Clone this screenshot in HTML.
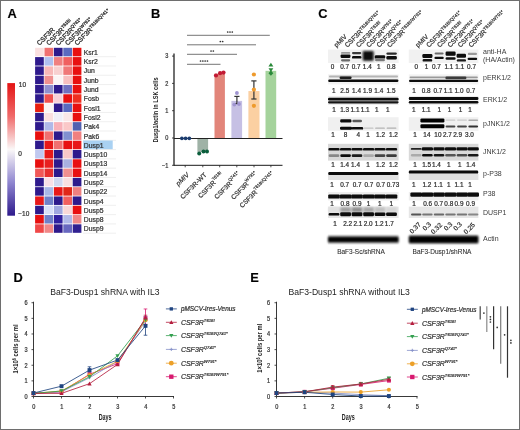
<!DOCTYPE html>
<html><head><meta charset="utf-8"><style>
html,body{margin:0;padding:0;background:#fff;width:520px;height:430px;overflow:hidden}
svg{display:block}
text{font-family:"Liberation Sans", sans-serif}
svg{will-change:transform}
text{stroke:#333;stroke-width:0.22px}
</style></head><body>
<svg width="520" height="430" viewBox="0 0 520 430">
<rect x="0" y="0" width="520" height="430" fill="#fff"/>
<rect x="35.10" y="47.80" width="8.7" height="8.5" fill="#fae0e0"/>
<rect x="44.50" y="47.80" width="8.7" height="8.5" fill="#f07070"/>
<rect x="53.90" y="47.80" width="8.7" height="8.5" fill="#2e1a8c"/>
<rect x="63.30" y="47.80" width="8.7" height="8.5" fill="#5a6ac0"/>
<rect x="72.70" y="47.80" width="8.7" height="8.5" fill="#e81010"/>
<rect x="35.10" y="57.09" width="8.7" height="8.5" fill="#2e1a8c"/>
<rect x="44.50" y="57.09" width="8.7" height="8.5" fill="#b0c0f0"/>
<rect x="53.90" y="57.09" width="8.7" height="8.5" fill="#f08080"/>
<rect x="63.30" y="57.09" width="8.7" height="8.5" fill="#f06060"/>
<rect x="72.70" y="57.09" width="8.7" height="8.5" fill="#e81010"/>
<rect x="35.10" y="66.38" width="8.7" height="8.5" fill="#2e1a8c"/>
<rect x="44.50" y="66.38" width="8.7" height="8.5" fill="#f8b8b8"/>
<rect x="53.90" y="66.38" width="8.7" height="8.5" fill="#f8d0d0"/>
<rect x="63.30" y="66.38" width="8.7" height="8.5" fill="#f07878"/>
<rect x="72.70" y="66.38" width="8.7" height="8.5" fill="#e81010"/>
<rect x="35.10" y="75.67" width="8.7" height="8.5" fill="#2e1a8c"/>
<rect x="44.50" y="75.67" width="8.7" height="8.5" fill="#f09090"/>
<rect x="53.90" y="75.67" width="8.7" height="8.5" fill="#fbf5f5"/>
<rect x="63.30" y="75.67" width="8.7" height="8.5" fill="#f8c0c0"/>
<rect x="72.70" y="75.67" width="8.7" height="8.5" fill="#e81010"/>
<rect x="35.10" y="84.96" width="8.7" height="8.5" fill="#2e1a8c"/>
<rect x="44.50" y="84.96" width="8.7" height="8.5" fill="#9090d0"/>
<rect x="53.90" y="84.96" width="8.7" height="8.5" fill="#2e1a8c"/>
<rect x="63.30" y="84.96" width="8.7" height="8.5" fill="#7070c0"/>
<rect x="72.70" y="84.96" width="8.7" height="8.5" fill="#e81010"/>
<rect x="35.10" y="94.25" width="8.7" height="8.5" fill="#2e1a8c"/>
<rect x="44.50" y="94.25" width="8.7" height="8.5" fill="#f05050"/>
<rect x="53.90" y="94.25" width="8.7" height="8.5" fill="#f8d0d8"/>
<rect x="63.30" y="94.25" width="8.7" height="8.5" fill="#e81010"/>
<rect x="72.70" y="94.25" width="8.7" height="8.5" fill="#f03020"/>
<rect x="35.10" y="103.54" width="8.7" height="8.5" fill="#e82010"/>
<rect x="44.50" y="103.54" width="8.7" height="8.5" fill="#faf5f5"/>
<rect x="53.90" y="103.54" width="8.7" height="8.5" fill="#2e1a8c"/>
<rect x="63.30" y="103.54" width="8.7" height="8.5" fill="#5a6ac0"/>
<rect x="72.70" y="103.54" width="8.7" height="8.5" fill="#e81010"/>
<rect x="35.10" y="112.83" width="8.7" height="8.5" fill="#2e1a8c"/>
<rect x="44.50" y="112.83" width="8.7" height="8.5" fill="#fae0e0"/>
<rect x="53.90" y="112.83" width="8.7" height="8.5" fill="#f0f0f8"/>
<rect x="63.30" y="112.83" width="8.7" height="8.5" fill="#fae8e8"/>
<rect x="72.70" y="112.83" width="8.7" height="8.5" fill="#e81010"/>
<rect x="35.10" y="122.12" width="8.7" height="8.5" fill="#2e1a8c"/>
<rect x="44.50" y="122.12" width="8.7" height="8.5" fill="#b0b8e8"/>
<rect x="53.90" y="122.12" width="8.7" height="8.5" fill="#f8b0b8"/>
<rect x="63.30" y="122.12" width="8.7" height="8.5" fill="#fac8c8"/>
<rect x="72.70" y="122.12" width="8.7" height="8.5" fill="#5060b0"/>
<rect x="35.10" y="131.41" width="8.7" height="8.5" fill="#e81010"/>
<rect x="44.50" y="131.41" width="8.7" height="8.5" fill="#f07070"/>
<rect x="53.90" y="131.41" width="8.7" height="8.5" fill="#2e1a8c"/>
<rect x="63.30" y="131.41" width="8.7" height="8.5" fill="#8090d0"/>
<rect x="72.70" y="131.41" width="8.7" height="8.5" fill="#f08080"/>
<rect x="35.10" y="140.70" width="8.7" height="8.5" fill="#2e1a8c"/>
<rect x="44.50" y="140.70" width="8.7" height="8.5" fill="#e81818"/>
<rect x="53.90" y="140.70" width="8.7" height="8.5" fill="#f07070"/>
<rect x="63.30" y="140.70" width="8.7" height="8.5" fill="#e81010"/>
<rect x="72.70" y="140.70" width="8.7" height="8.5" fill="#e81818"/>
<rect x="35.10" y="149.99" width="8.7" height="8.5" fill="#c0c8f0"/>
<rect x="44.50" y="149.99" width="8.7" height="8.5" fill="#e81818"/>
<rect x="53.90" y="149.99" width="8.7" height="8.5" fill="#2e1a8c"/>
<rect x="63.30" y="149.99" width="8.7" height="8.5" fill="#f8c8c8"/>
<rect x="72.70" y="149.99" width="8.7" height="8.5" fill="#2e1a8c"/>
<rect x="35.10" y="159.28" width="8.7" height="8.5" fill="#e81010"/>
<rect x="44.50" y="159.28" width="8.7" height="8.5" fill="#e82020"/>
<rect x="53.90" y="159.28" width="8.7" height="8.5" fill="#2e1a8c"/>
<rect x="63.30" y="159.28" width="8.7" height="8.5" fill="#a8b0e0"/>
<rect x="72.70" y="159.28" width="8.7" height="8.5" fill="#e81010"/>
<rect x="35.10" y="168.57" width="8.7" height="8.5" fill="#f05858"/>
<rect x="44.50" y="168.57" width="8.7" height="8.5" fill="#e83030"/>
<rect x="53.90" y="168.57" width="8.7" height="8.5" fill="#2e1a8c"/>
<rect x="63.30" y="168.57" width="8.7" height="8.5" fill="#f09090"/>
<rect x="72.70" y="168.57" width="8.7" height="8.5" fill="#e81010"/>
<rect x="35.10" y="177.86" width="8.7" height="8.5" fill="#2e1a8c"/>
<rect x="44.50" y="177.86" width="8.7" height="8.5" fill="#f8e0e8"/>
<rect x="53.90" y="177.86" width="8.7" height="8.5" fill="#d0d8f0"/>
<rect x="63.30" y="177.86" width="8.7" height="8.5" fill="#f8e0e0"/>
<rect x="72.70" y="177.86" width="8.7" height="8.5" fill="#2e1a8c"/>
<rect x="35.10" y="187.15" width="8.7" height="8.5" fill="#2e1a8c"/>
<rect x="44.50" y="187.15" width="8.7" height="8.5" fill="#a8b8e8"/>
<rect x="53.90" y="187.15" width="8.7" height="8.5" fill="#e81818"/>
<rect x="63.30" y="187.15" width="8.7" height="8.5" fill="#e02818"/>
<rect x="72.70" y="187.15" width="8.7" height="8.5" fill="#f08080"/>
<rect x="35.10" y="196.44" width="8.7" height="8.5" fill="#e81818"/>
<rect x="44.50" y="196.44" width="8.7" height="8.5" fill="#7080c8"/>
<rect x="53.90" y="196.44" width="8.7" height="8.5" fill="#2e1a8c"/>
<rect x="63.30" y="196.44" width="8.7" height="8.5" fill="#f06060"/>
<rect x="72.70" y="196.44" width="8.7" height="8.5" fill="#2e1a8c"/>
<rect x="35.10" y="205.73" width="8.7" height="8.5" fill="#2e1a8c"/>
<rect x="44.50" y="205.73" width="8.7" height="8.5" fill="#d8e0f8"/>
<rect x="53.90" y="205.73" width="8.7" height="8.5" fill="#a0a8e0"/>
<rect x="63.30" y="205.73" width="8.7" height="8.5" fill="#f8d8d8"/>
<rect x="72.70" y="205.73" width="8.7" height="8.5" fill="#e81010"/>
<rect x="35.10" y="215.02" width="8.7" height="8.5" fill="#e81010"/>
<rect x="44.50" y="215.02" width="8.7" height="8.5" fill="#7080c8"/>
<rect x="53.90" y="215.02" width="8.7" height="8.5" fill="#3020a0"/>
<rect x="63.30" y="215.02" width="8.7" height="8.5" fill="#b0b8e8"/>
<rect x="72.70" y="215.02" width="8.7" height="8.5" fill="#f08888"/>
<rect x="35.10" y="224.31" width="8.7" height="8.5" fill="#f04848"/>
<rect x="44.50" y="224.31" width="8.7" height="8.5" fill="#f08888"/>
<rect x="53.90" y="224.31" width="8.7" height="8.5" fill="#2e1a8c"/>
<rect x="63.30" y="224.31" width="8.7" height="8.5" fill="#6868c0"/>
<rect x="72.70" y="224.31" width="8.7" height="8.5" fill="#302090"/>
<text x="83.8" y="54.90" font-size="6.8" text-anchor="start" fill="#333" font-weight="normal" font-style="normal" >Ksr1</text>
<line x1="83" y1="56.69" x2="116" y2="56.69" stroke="#e4e4e4" stroke-width="0.6"/>
<text x="83.8" y="64.19" font-size="6.8" text-anchor="start" fill="#333" font-weight="normal" font-style="normal" >Ksr2</text>
<line x1="83" y1="65.98" x2="116" y2="65.98" stroke="#e4e4e4" stroke-width="0.6"/>
<text x="83.8" y="73.48" font-size="6.8" text-anchor="start" fill="#333" font-weight="normal" font-style="normal" >Jun</text>
<line x1="83" y1="75.27" x2="116" y2="75.27" stroke="#e4e4e4" stroke-width="0.6"/>
<text x="83.8" y="82.77" font-size="6.8" text-anchor="start" fill="#333" font-weight="normal" font-style="normal" >Junb</text>
<line x1="83" y1="84.56" x2="116" y2="84.56" stroke="#e4e4e4" stroke-width="0.6"/>
<text x="83.8" y="92.06" font-size="6.8" text-anchor="start" fill="#333" font-weight="normal" font-style="normal" >Jund</text>
<line x1="83" y1="93.85" x2="116" y2="93.85" stroke="#e4e4e4" stroke-width="0.6"/>
<text x="83.8" y="101.35" font-size="6.8" text-anchor="start" fill="#333" font-weight="normal" font-style="normal" >Fosb</text>
<line x1="83" y1="103.14" x2="116" y2="103.14" stroke="#e4e4e4" stroke-width="0.6"/>
<text x="83.8" y="110.64" font-size="6.8" text-anchor="start" fill="#333" font-weight="normal" font-style="normal" >Fosl1</text>
<line x1="83" y1="112.43" x2="116" y2="112.43" stroke="#e4e4e4" stroke-width="0.6"/>
<text x="83.8" y="119.93" font-size="6.8" text-anchor="start" fill="#333" font-weight="normal" font-style="normal" >Fosl2</text>
<line x1="83" y1="121.72" x2="116" y2="121.72" stroke="#e4e4e4" stroke-width="0.6"/>
<text x="83.8" y="129.22" font-size="6.8" text-anchor="start" fill="#333" font-weight="normal" font-style="normal" >Pak4</text>
<line x1="83" y1="131.01" x2="116" y2="131.01" stroke="#e4e4e4" stroke-width="0.6"/>
<text x="83.8" y="138.51" font-size="6.8" text-anchor="start" fill="#333" font-weight="normal" font-style="normal" >Pak6</text>
<line x1="83" y1="140.30" x2="116" y2="140.30" stroke="#e4e4e4" stroke-width="0.6"/>
<rect x="83.2" y="140.50" width="29.5" height="8.8" fill="#a9d1f2"/>
<text x="83.8" y="147.80" font-size="6.8" text-anchor="start" fill="#333" font-weight="normal" font-style="normal" >Dusp1</text>
<line x1="83" y1="149.59" x2="116" y2="149.59" stroke="#e4e4e4" stroke-width="0.6"/>
<text x="83.8" y="157.09" font-size="6.8" text-anchor="start" fill="#333" font-weight="normal" font-style="normal" >Dusp10</text>
<line x1="83" y1="158.88" x2="116" y2="158.88" stroke="#e4e4e4" stroke-width="0.6"/>
<text x="83.8" y="166.38" font-size="6.8" text-anchor="start" fill="#333" font-weight="normal" font-style="normal" >Dusp13</text>
<line x1="83" y1="168.17" x2="116" y2="168.17" stroke="#e4e4e4" stroke-width="0.6"/>
<text x="83.8" y="175.67" font-size="6.8" text-anchor="start" fill="#333" font-weight="normal" font-style="normal" >Dusp14</text>
<line x1="83" y1="177.46" x2="116" y2="177.46" stroke="#e4e4e4" stroke-width="0.6"/>
<text x="83.8" y="184.96" font-size="6.8" text-anchor="start" fill="#333" font-weight="normal" font-style="normal" >Dusp2</text>
<line x1="83" y1="186.75" x2="116" y2="186.75" stroke="#e4e4e4" stroke-width="0.6"/>
<text x="83.8" y="194.25" font-size="6.8" text-anchor="start" fill="#333" font-weight="normal" font-style="normal" >Dusp22</text>
<line x1="83" y1="196.04" x2="116" y2="196.04" stroke="#e4e4e4" stroke-width="0.6"/>
<text x="83.8" y="203.54" font-size="6.8" text-anchor="start" fill="#333" font-weight="normal" font-style="normal" >Dusp4</text>
<line x1="83" y1="205.33" x2="116" y2="205.33" stroke="#e4e4e4" stroke-width="0.6"/>
<text x="83.8" y="212.83" font-size="6.8" text-anchor="start" fill="#333" font-weight="normal" font-style="normal" >Dusp5</text>
<line x1="83" y1="214.62" x2="116" y2="214.62" stroke="#e4e4e4" stroke-width="0.6"/>
<text x="83.8" y="222.12" font-size="6.8" text-anchor="start" fill="#333" font-weight="normal" font-style="normal" >Dusp8</text>
<line x1="83" y1="223.91" x2="116" y2="223.91" stroke="#e4e4e4" stroke-width="0.6"/>
<text x="83.8" y="231.41" font-size="6.8" text-anchor="start" fill="#333" font-weight="normal" font-style="normal" >Dusp9</text>
<line x1="83" y1="233.20" x2="116" y2="233.20" stroke="#e4e4e4" stroke-width="0.6"/>
<g transform="translate(39.60,45.8) rotate(-45)"><text x="0" y="0" font-size="6.7" fill="#333" style="stroke-width:0.3px">CSF3R</text></g>
<g transform="translate(49.00,45.8) rotate(-45)"><text x="0" y="0" font-size="6.7" fill="#333" style="stroke-width:0.3px">CSF3R<tspan font-size="4.5" dy="-2.3">T618I</tspan></text></g>
<g transform="translate(58.40,45.8) rotate(-45)"><text x="0" y="0" font-size="6.7" fill="#333" style="stroke-width:0.3px">CSF3R<tspan font-size="4.5" dy="-2.3">Q741*</tspan></text></g>
<g transform="translate(67.80,45.8) rotate(-45)"><text x="0" y="0" font-size="6.7" fill="#333" style="stroke-width:0.3px">CSF3R<tspan font-size="4.5" dy="-2.3">W791*</tspan></text></g>
<g transform="translate(77.20,45.8) rotate(-45)"><text x="0" y="0" font-size="6.7" fill="#333" style="stroke-width:0.3px">CSF3R<tspan font-size="4.5" dy="-2.3">T618I/Q741*</tspan></text></g>
<defs><linearGradient id="cb" x1="0" y1="0" x2="0" y2="1"><stop offset="0" stop-color="#e41414"/><stop offset="0.25" stop-color="#f06a6a"/><stop offset="0.5" stop-color="#fbf8f8"/><stop offset="0.75" stop-color="#8f86d0"/><stop offset="1" stop-color="#2e1a8c"/></linearGradient></defs>
<rect x="7.3" y="83.1" width="7.7" height="132.6" fill="url(#cb)"/>
<text x="18.8" y="87.4" font-size="6.5" text-anchor="start" fill="#333" font-weight="normal" font-style="normal" >10</text>
<text x="18.2" y="155.6" font-size="6.5" text-anchor="start" fill="#333" font-weight="normal" font-style="normal" >0</text>
<text x="18.3" y="215.9" font-size="6.5" text-anchor="start" fill="#333" font-weight="normal" font-style="normal" >−10</text>
<text x="7.4" y="17.7" font-size="12.8" text-anchor="start" fill="#000" font-weight="bold" font-style="normal" >A</text>
<text x="151.0" y="17.9" font-size="12.8" text-anchor="start" fill="#000" font-weight="bold" font-style="normal" >B</text>
<rect x="197.4" y="138.00" width="10.70" height="13.92" fill="#9fb2a6"/>
<rect x="214.5" y="73.57" width="10.40" height="64.43" fill="#e2857a"/>
<rect x="231.4" y="100.87" width="10.70" height="37.13" fill="#c6c0e4"/>
<rect x="248.4" y="91.04" width="11.10" height="46.96" fill="#fbd0a2"/>
<rect x="265.5" y="70.84" width="10.70" height="67.16" fill="#a5d39c"/>
<line x1="174.0" y1="53.60" x2="174.0" y2="165.80" stroke="#111" stroke-width="1.2"/>
<line x1="174.0" y1="138.5" x2="282.5" y2="138.5" stroke="#222" stroke-width="1"/>
<line x1="174.0" y1="165.30" x2="282.5" y2="165.30" stroke="#1a1a1a" stroke-width="1"/>
<line x1="172.0" y1="56.10" x2="174.0" y2="56.10" stroke="#222" stroke-width="0.8"/>
<g transform="translate(168.40,58.30) scale(0.85,1)"><text x="0" y="0" font-size="6.6" text-anchor="end" fill="#333" font-weight="normal" font-style="normal" >3</text></g>
<line x1="172.0" y1="83.40" x2="174.0" y2="83.40" stroke="#222" stroke-width="0.8"/>
<g transform="translate(168.40,85.60) scale(0.85,1)"><text x="0" y="0" font-size="6.6" text-anchor="end" fill="#333" font-weight="normal" font-style="normal" >2</text></g>
<line x1="172.0" y1="110.70" x2="174.0" y2="110.70" stroke="#222" stroke-width="0.8"/>
<g transform="translate(168.40,112.90) scale(0.85,1)"><text x="0" y="0" font-size="6.6" text-anchor="end" fill="#333" font-weight="normal" font-style="normal" >1</text></g>
<line x1="172.0" y1="138.00" x2="174.0" y2="138.00" stroke="#222" stroke-width="0.8"/>
<g transform="translate(168.40,140.20) scale(0.85,1)"><text x="0" y="0" font-size="6.6" text-anchor="end" fill="#333" font-weight="normal" font-style="normal" >0</text></g>
<line x1="172.0" y1="165.30" x2="174.0" y2="165.30" stroke="#222" stroke-width="0.8"/>
<g transform="translate(168.40,167.50) scale(0.85,1)"><text x="0" y="0" font-size="6.6" text-anchor="end" fill="#333" font-weight="normal" font-style="normal" >−1</text></g>
<line x1="185.2" y1="165.30" x2="185.2" y2="167.30" stroke="#222" stroke-width="0.8"/>
<line x1="202.8" y1="165.30" x2="202.8" y2="167.30" stroke="#222" stroke-width="0.8"/>
<line x1="219.7" y1="165.30" x2="219.7" y2="167.30" stroke="#222" stroke-width="0.8"/>
<line x1="236.8" y1="165.30" x2="236.8" y2="167.30" stroke="#222" stroke-width="0.8"/>
<line x1="254.0" y1="165.30" x2="254.0" y2="167.30" stroke="#222" stroke-width="0.8"/>
<line x1="270.9" y1="165.30" x2="270.9" y2="167.30" stroke="#222" stroke-width="0.8"/>
<g transform="translate(157.6,110.0) rotate(-90)"><text x="0" y="0" font-size="7.4" text-anchor="middle" fill="#222" font-weight="bold" style="stroke:none" transform="scale(0.76,1)">Dusp1/actin in LSK cells</text></g>
<g transform="translate(189.50,175.30) rotate(-45)"><text x="0" y="0" font-size="6.6" text-anchor="end" fill="#333"><tspan font-style="italic">pMIV</tspan></text></g>
<g transform="translate(207.10,175.30) rotate(-45)"><text x="0" y="0" font-size="6.6" text-anchor="end" fill="#333">CSF3R-WT</text></g>
<g transform="translate(224.00,175.30) rotate(-45)"><text x="0" y="0" font-size="6.6" text-anchor="end" fill="#333">CSF3R<tspan font-size="4.4" dy="-3.4">T618I</tspan></text></g>
<g transform="translate(241.10,175.30) rotate(-45)"><text x="0" y="0" font-size="6.6" text-anchor="end" fill="#333">CSF3R<tspan font-size="4.4" dy="-3.4">Q741*</tspan></text></g>
<g transform="translate(258.30,175.30) rotate(-45)"><text x="0" y="0" font-size="6.6" text-anchor="end" fill="#333">CSF3R<tspan font-size="4.4" dy="-3.4">W791*</tspan></text></g>
<g transform="translate(275.20,175.30) rotate(-45)"><text x="0" y="0" font-size="6.6" text-anchor="end" fill="#333">CSF3R<tspan font-size="4.4" dy="-3.4">T618I/Q741*</tspan></text></g>
<line x1="187" y1="35.3" x2="269.8" y2="35.3" stroke="#666" stroke-width="0.9"/>
<circle cx="227.70" cy="32.00" r="0.85" fill="#333"/>
<circle cx="230.00" cy="32.00" r="0.85" fill="#333"/>
<circle cx="232.30" cy="32.00" r="0.85" fill="#333"/>
<line x1="187" y1="44.8" x2="256" y2="44.8" stroke="#666" stroke-width="0.9"/>
<circle cx="220.35" cy="41.50" r="0.85" fill="#333"/>
<circle cx="222.65" cy="41.50" r="0.85" fill="#333"/>
<line x1="187" y1="54.3" x2="237" y2="54.3" stroke="#666" stroke-width="0.9"/>
<circle cx="211.05" cy="51.00" r="0.85" fill="#333"/>
<circle cx="213.35" cy="51.00" r="0.85" fill="#333"/>
<line x1="187" y1="64.3" x2="220.5" y2="64.3" stroke="#666" stroke-width="0.9"/>
<circle cx="200.55" cy="61.00" r="0.85" fill="#333"/>
<circle cx="202.85" cy="61.00" r="0.85" fill="#333"/>
<circle cx="205.15" cy="61.00" r="0.85" fill="#333"/>
<circle cx="207.45" cy="61.00" r="0.85" fill="#333"/>
<circle cx="181.9" cy="138.3" r="1.9" fill="#1b3c6e"/>
<circle cx="185.6" cy="138.3" r="1.9" fill="#1b3c6e"/>
<circle cx="189.3" cy="138.3" r="1.9" fill="#1b3c6e"/>
<circle cx="199.2" cy="153.6" r="2.0" fill="#0b5e3c"/>
<circle cx="203.5" cy="151.4" r="2.0" fill="#0b5e3c"/>
<circle cx="207.0" cy="151.6" r="2.0" fill="#0b5e3c"/>
<circle cx="216" cy="75.5" r="2.1" fill="#c21a34"/>
<circle cx="220.1" cy="73.2" r="2.1" fill="#c21a34"/>
<circle cx="223.5" cy="72.6" r="2.1" fill="#c21a34"/>
<line x1="236.9" y1="96.4" x2="236.9" y2="103.6" stroke="#333" stroke-width="1.2"/><line x1="234.3" y1="96.4" x2="239.5" y2="96.4" stroke="#333" stroke-width="1.2"/><line x1="234.3" y1="103.6" x2="239.5" y2="103.6" stroke="#333" stroke-width="1.2"/>
<circle cx="236.9" cy="93.0" r="1.9" fill="#9f94d0"/>
<circle cx="234.3" cy="104.6" r="1.9" fill="#9f94d0"/>
<circle cx="239.0" cy="104.0" r="1.9" fill="#9f94d0"/>
<line x1="253.9" y1="80.9" x2="253.9" y2="99.0" stroke="#333" stroke-width="1.2"/><line x1="251.3" y1="80.9" x2="256.5" y2="80.9" stroke="#333" stroke-width="1.2"/><line x1="251.3" y1="99.0" x2="256.5" y2="99.0" stroke="#333" stroke-width="1.2"/>
<circle cx="253.9" cy="74.5" r="2.1" fill="#ee9a2c"/>
<circle cx="253.9" cy="89.6" r="2.1" fill="#ee9a2c"/>
<circle cx="253.9" cy="105.8" r="2.1" fill="#ee9a2c"/>
<path d="M268.4,66.6 L270.9,62.8 L273.4,66.6 Z" fill="#2a8a3a"/>
<path d="M268.5,68.2 L270.9,72.0 L273.29999999999995,68.2 Z" fill="#2a8a3a"/>
<path d="M268.5,73.2 L270.9,70.6 L273.29999999999995,73.2 L270.9,75.8 Z" fill="#2a8a3a"/>
<text x="318.3" y="18.1" font-size="12.8" text-anchor="start" fill="#000" font-weight="bold" font-style="normal" >C</text>
<defs><filter id="bl" x="-20%" y="-50%" width="140%" height="200%"><feGaussianBlur stdDeviation="0.75"/></filter><filter id="bl2" x="-20%" y="-50%" width="140%" height="200%"><feGaussianBlur stdDeviation="1.1"/></filter></defs>
<rect x="328.0" y="49.6" width="70.6" height="13.4" fill="#f1f1f1"/>
<rect x="328.0" y="74.4" width="70.6" height="10.0" fill="#f2f2f2"/>
<rect x="328.0" y="96.0" width="70.6" height="9.0" fill="#ededed"/>
<rect x="328.0" y="117.2" width="70.6" height="13.6" fill="#f0f0f0"/>
<rect x="328.0" y="143.8" width="70.6" height="16.8" fill="#d9d9d9"/>
<rect x="328.0" y="174.0" width="70.6" height="6.0" fill="#e2e2e2"/>
<rect x="328.0" y="192.0" width="70.6" height="8.4" fill="#eeeeee"/>
<rect x="328.0" y="206.6" width="70.6" height="11.4" fill="#e6e6e6"/>
<rect x="328.0" y="234.6" width="70.6" height="9.8" fill="#ececec"/>
<rect x="408.8" y="49.6" width="69.6" height="13.4" fill="#f1f1f1"/>
<rect x="408.8" y="74.4" width="69.6" height="10.0" fill="#f2f2f2"/>
<rect x="408.8" y="96.0" width="69.6" height="9.0" fill="#ededed"/>
<rect x="408.8" y="117.2" width="69.6" height="13.6" fill="#f0f0f0"/>
<rect x="408.8" y="143.8" width="69.6" height="16.8" fill="#d9d9d9"/>
<rect x="408.8" y="174.0" width="69.6" height="6.0" fill="#e2e2e2"/>
<rect x="408.8" y="192.0" width="69.6" height="8.4" fill="#eeeeee"/>
<rect x="408.8" y="206.6" width="69.6" height="11.4" fill="#e6e6e6"/>
<rect x="408.8" y="234.6" width="69.6" height="9.8" fill="#ececec"/>
<rect x="341.00" y="52.00" width="9.20" height="1.80" rx="0.8999999999999986" fill="#999" filter="url(#bl)"/>
<rect x="340.60" y="54.40" width="9.80" height="3.60" rx="1.2" fill="#0e0e0e" filter="url(#bl)"/>
<rect x="341.00" y="59.20" width="9.20" height="2.20" rx="1.0999999999999979" fill="#6a6a6a" filter="url(#bl)"/>
<rect x="352.00" y="52.00" width="9.20" height="2.20" rx="1.1000000000000014" fill="#3a3a3a" filter="url(#bl)"/>
<rect x="352.00" y="56.00" width="9.40" height="2.60" rx="1.2" fill="#0e0e0e" filter="url(#bl)"/>
<rect x="362.80" y="51.00" width="10.80" height="9.80" rx="1.2" fill="#070707" filter="url(#bl2)"/>
<rect x="374.80" y="55.20" width="10.40" height="3.40" rx="1.2" fill="#0e0e0e" filter="url(#bl)"/>
<rect x="375.00" y="59.00" width="10.00" height="2.20" rx="1.1000000000000014" fill="#7a7a7a" filter="url(#bl)"/>
<rect x="386.40" y="52.40" width="10.40" height="2.40" rx="1.1999999999999993" fill="#2a2a2a" filter="url(#bl)"/>
<rect x="386.40" y="56.00" width="10.40" height="3.40" rx="1.2" fill="#0c0c0c" filter="url(#bl)"/>
<rect x="329.00" y="75.60" width="69.00" height="1.80" rx="0.9000000000000057" fill="#b4b4b4" filter="url(#bl)"/>
<rect x="339.60" y="76.40" width="12.00" height="2.60" rx="1.2" fill="#1a1a1a" filter="url(#bl)"/>
<rect x="328.20" y="79.50" width="70.20" height="2.40" rx="1.2" fill="#0c0c0c" filter="url(#bl)"/>
<rect x="328.00" y="97.80" width="70.60" height="2.60" rx="1.2" fill="#0a0a0a" filter="url(#bl)"/>
<rect x="328.00" y="101.30" width="70.60" height="2.10" rx="1.0500000000000043" fill="#141414" filter="url(#bl)"/>
<rect x="340.20" y="119.30" width="11.20" height="3.20" rx="1.2" fill="#0e0e0e" filter="url(#bl)"/>
<rect x="352.40" y="119.80" width="9.60" height="2.40" rx="1.2" fill="#5a5a5a" filter="url(#bl)"/>
<rect x="340.00" y="126.80" width="12.00" height="3.00" rx="1.2" fill="#080808" filter="url(#bl)"/>
<rect x="351.60" y="126.90" width="11.60" height="2.70" rx="1.2" fill="#0e0e0e" filter="url(#bl)"/>
<rect x="363.70" y="127.60" width="9.80" height="1.10" rx="0.5499999999999972" fill="#c4c4c4" filter="url(#bl)"/>
<rect x="375.10" y="127.50" width="9.80" height="1.30" rx="0.6500000000000057" fill="#b4b4b4" filter="url(#bl)"/>
<rect x="386.60" y="127.50" width="9.80" height="1.30" rx="0.6500000000000057" fill="#b0b0b0" filter="url(#bl)"/>
<rect x="328.40" y="147.90" width="11.20" height="2.70" rx="1.2" fill="#111" filter="url(#bl)"/>
<rect x="340.00" y="147.90" width="11.20" height="2.70" rx="1.2" fill="#111" filter="url(#bl)"/>
<rect x="351.40" y="147.90" width="11.20" height="2.70" rx="1.2" fill="#111" filter="url(#bl)"/>
<rect x="363.00" y="147.90" width="11.20" height="2.70" rx="1.2" fill="#111" filter="url(#bl)"/>
<rect x="374.40" y="147.90" width="11.20" height="2.70" rx="1.2" fill="#111" filter="url(#bl)"/>
<rect x="385.90" y="147.90" width="11.20" height="2.70" rx="1.2" fill="#111" filter="url(#bl)"/>
<rect x="328.70" y="154.20" width="10.60" height="2.70" rx="1.2" fill="#888" filter="url(#bl)"/>
<rect x="340.30" y="154.20" width="10.60" height="2.70" rx="1.2" fill="#111" filter="url(#bl)"/>
<rect x="351.70" y="154.20" width="10.60" height="2.70" rx="1.2" fill="#1a1a1a" filter="url(#bl)"/>
<rect x="363.30" y="154.20" width="10.60" height="2.70" rx="1.2" fill="#aaa" filter="url(#bl)"/>
<rect x="374.70" y="154.20" width="10.60" height="2.70" rx="1.2" fill="#444" filter="url(#bl)"/>
<rect x="386.20" y="154.20" width="10.60" height="2.70" rx="1.2" fill="#3a3a3a" filter="url(#bl)"/>
<rect x="328.20" y="172.10" width="70.20" height="2.80" rx="1.2" fill="#0e0e0e" filter="url(#bl)"/>
<rect x="328.20" y="194.40" width="11.60" height="4.20" rx="1.2" fill="#0a0a0a" filter="url(#bl)"/>
<rect x="339.80" y="194.40" width="11.60" height="4.20" rx="1.2" fill="#0a0a0a" filter="url(#bl)"/>
<rect x="351.20" y="194.40" width="11.60" height="4.20" rx="1.2" fill="#0a0a0a" filter="url(#bl)"/>
<rect x="362.80" y="194.40" width="11.60" height="4.20" rx="1.2" fill="#0a0a0a" filter="url(#bl)"/>
<rect x="374.20" y="194.40" width="11.60" height="4.20" rx="1.2" fill="#0a0a0a" filter="url(#bl)"/>
<rect x="385.70" y="194.40" width="11.60" height="4.20" rx="1.2" fill="#0a0a0a" filter="url(#bl)"/>
<rect x="328.70" y="207.20" width="10.60" height="4.80" rx="1.2" fill="#e0e0e0" filter="url(#bl2)"/>
<rect x="340.30" y="207.20" width="10.60" height="4.80" rx="1.2" fill="#a0a0a0" filter="url(#bl2)"/>
<rect x="351.70" y="207.20" width="10.60" height="4.80" rx="1.2" fill="#909090" filter="url(#bl2)"/>
<rect x="363.30" y="207.20" width="10.60" height="4.80" rx="1.2" fill="#a8a8a8" filter="url(#bl2)"/>
<rect x="374.70" y="207.20" width="10.60" height="4.80" rx="1.2" fill="#c0c0c0" filter="url(#bl2)"/>
<rect x="386.20" y="207.20" width="10.60" height="4.80" rx="1.2" fill="#d6d6d6" filter="url(#bl2)"/>
<rect x="328.60" y="213.00" width="10.80" height="2.60" rx="1.2" fill="#0c0c0c" filter="url(#bl)"/>
<rect x="340.20" y="212.20" width="10.80" height="4.00" rx="1.2" fill="#0c0c0c" filter="url(#bl)"/>
<rect x="351.60" y="212.20" width="10.80" height="4.00" rx="1.2" fill="#0c0c0c" filter="url(#bl)"/>
<rect x="363.20" y="212.20" width="10.80" height="4.00" rx="1.2" fill="#0c0c0c" filter="url(#bl)"/>
<rect x="374.60" y="212.60" width="10.80" height="3.30" rx="1.2" fill="#0c0c0c" filter="url(#bl)"/>
<rect x="386.10" y="212.60" width="10.80" height="3.30" rx="1.2" fill="#0c0c0c" filter="url(#bl)"/>
<rect x="328.00" y="236.40" width="70.60" height="6.20" rx="1.2" fill="#060606" filter="url(#bl2)"/>
<rect x="422.40" y="54.00" width="10.00" height="4.00" rx="1.2" fill="#0a0a0a" filter="url(#bl)"/>
<rect x="422.60" y="59.00" width="9.60" height="2.60" rx="1.2" fill="#151515" filter="url(#bl)"/>
<rect x="434.60" y="52.40" width="9.00" height="2.20" rx="1.1000000000000014" fill="#6a6a6a" filter="url(#bl)"/>
<rect x="434.40" y="56.80" width="9.40" height="2.20" rx="1.1000000000000014" fill="#111" filter="url(#bl)"/>
<rect x="445.60" y="51.60" width="10.00" height="4.20" rx="1.2" fill="#080808" filter="url(#bl)"/>
<rect x="445.60" y="57.20" width="10.00" height="2.60" rx="1.2" fill="#111" filter="url(#bl)"/>
<rect x="456.60" y="53.80" width="9.40" height="4.00" rx="1.2" fill="#0a0a0a" filter="url(#bl)"/>
<rect x="456.80" y="59.20" width="9.20" height="2.40" rx="1.1999999999999993" fill="#1a1a1a" filter="url(#bl)"/>
<rect x="467.80" y="52.80" width="9.20" height="2.20" rx="1.1000000000000014" fill="#999" filter="url(#bl)"/>
<rect x="467.60" y="57.80" width="9.60" height="2.20" rx="1.1000000000000014" fill="#111" filter="url(#bl)"/>
<rect x="409.60" y="76.60" width="68.20" height="1.60" rx="0.8000000000000043" fill="#9a9a9a" filter="url(#bl)"/>
<rect x="445.40" y="76.60" width="21.00" height="2.60" rx="1.2" fill="#3a3a3a" filter="url(#bl)"/>
<rect x="409.00" y="79.80" width="69.20" height="2.20" rx="1.1000000000000014" fill="#0c0c0c" filter="url(#bl)"/>
<rect x="408.80" y="97.00" width="69.60" height="3.00" rx="1.2" fill="#080808" filter="url(#bl)"/>
<rect x="408.80" y="101.00" width="69.60" height="2.40" rx="1.2" fill="#111" filter="url(#bl)"/>
<rect x="420.40" y="118.40" width="24.00" height="4.00" rx="1.2" fill="#060606" filter="url(#bl)"/>
<rect x="420.40" y="124.20" width="24.00" height="4.00" rx="1.2" fill="#060606" filter="url(#bl)"/>
<rect x="445.60" y="119.60" width="9.80" height="1.20" rx="0.6000000000000014" fill="#ccc" filter="url(#bl)"/>
<rect x="457.10" y="119.60" width="9.80" height="1.20" rx="0.6000000000000014" fill="#ccc" filter="url(#bl)"/>
<rect x="468.30" y="119.40" width="9.80" height="1.60" rx="0.7999999999999972" fill="#aaa" filter="url(#bl)"/>
<rect x="445.60" y="125.60" width="9.80" height="2.00" rx="1.0" fill="#444" filter="url(#bl)"/>
<rect x="457.10" y="125.60" width="9.80" height="2.00" rx="1.0" fill="#444" filter="url(#bl)"/>
<rect x="468.30" y="125.40" width="9.80" height="2.20" rx="1.0999999999999943" fill="#333" filter="url(#bl)"/>
<rect x="410.80" y="148.00" width="10.80" height="1.80" rx="0.9000000000000057" fill="#222" filter="url(#bl)"/>
<rect x="421.80" y="147.30" width="11.20" height="3.20" rx="1.2" fill="#111" filter="url(#bl)"/>
<rect x="433.40" y="147.30" width="11.20" height="3.20" rx="1.2" fill="#111" filter="url(#bl)"/>
<rect x="444.90" y="147.30" width="11.20" height="3.20" rx="1.2" fill="#111" filter="url(#bl)"/>
<rect x="456.40" y="147.30" width="11.20" height="3.20" rx="1.2" fill="#111" filter="url(#bl)"/>
<rect x="467.60" y="147.30" width="11.20" height="3.20" rx="1.2" fill="#111" filter="url(#bl)"/>
<rect x="410.90" y="153.90" width="10.60" height="2.60" rx="1.2" fill="#aaa" filter="url(#bl)"/>
<rect x="422.10" y="153.90" width="10.60" height="2.60" rx="1.2" fill="#111" filter="url(#bl)"/>
<rect x="433.70" y="153.90" width="10.60" height="2.60" rx="1.2" fill="#151515" filter="url(#bl)"/>
<rect x="445.20" y="153.90" width="10.60" height="2.60" rx="1.2" fill="#555" filter="url(#bl)"/>
<rect x="456.70" y="153.90" width="10.60" height="2.60" rx="1.2" fill="#4a4a4a" filter="url(#bl)"/>
<rect x="467.90" y="153.90" width="10.60" height="2.60" rx="1.2" fill="#151515" filter="url(#bl)"/>
<rect x="408.80" y="170.50" width="69.40" height="3.10" rx="1.2" fill="#0c0c0c" filter="url(#bl)"/>
<rect x="410.40" y="192.40" width="11.60" height="4.40" rx="1.2" fill="#0a0a0a" filter="url(#bl)"/>
<rect x="421.60" y="192.40" width="11.60" height="4.40" rx="1.2" fill="#0a0a0a" filter="url(#bl)"/>
<rect x="433.20" y="192.40" width="11.60" height="4.40" rx="1.2" fill="#0a0a0a" filter="url(#bl)"/>
<rect x="444.70" y="192.40" width="11.60" height="4.40" rx="1.2" fill="#0a0a0a" filter="url(#bl)"/>
<rect x="456.20" y="192.40" width="11.60" height="4.40" rx="1.2" fill="#0a0a0a" filter="url(#bl)"/>
<rect x="467.40" y="192.40" width="11.60" height="4.40" rx="1.2" fill="#0a0a0a" filter="url(#bl)"/>
<rect x="411.00" y="213.60" width="10.40" height="2.00" rx="1.0" fill="#555" filter="url(#bl)"/>
<rect x="422.20" y="213.60" width="10.40" height="2.00" rx="1.0" fill="#777" filter="url(#bl)"/>
<rect x="433.80" y="213.60" width="10.40" height="2.00" rx="1.0" fill="#6a6a6a" filter="url(#bl)"/>
<rect x="445.30" y="213.60" width="10.40" height="2.00" rx="1.0" fill="#777" filter="url(#bl)"/>
<rect x="456.80" y="213.60" width="10.40" height="2.00" rx="1.0" fill="#777" filter="url(#bl)"/>
<rect x="468.00" y="213.60" width="10.40" height="2.00" rx="1.0" fill="#888" filter="url(#bl)"/>
<rect x="408.80" y="235.80" width="69.60" height="7.40" rx="1.2" fill="#050505" filter="url(#bl2)"/>
<text x="332.5" y="68.6" font-size="6.4" text-anchor="middle" fill="#2a2a2a" font-weight="normal" font-style="normal" >0</text>
<text x="344.6" y="68.6" font-size="6.4" text-anchor="middle" fill="#2a2a2a" font-weight="normal" font-style="normal" >0.7</text>
<text x="356.2" y="68.6" font-size="6.4" text-anchor="middle" fill="#2a2a2a" font-weight="normal" font-style="normal" >0.7</text>
<text x="367.3" y="68.6" font-size="6.4" text-anchor="middle" fill="#2a2a2a" font-weight="normal" font-style="normal" >1.4</text>
<text x="378.7" y="68.6" font-size="6.4" text-anchor="middle" fill="#2a2a2a" font-weight="normal" font-style="normal" >1</text>
<text x="391.2" y="68.6" font-size="6.4" text-anchor="middle" fill="#2a2a2a" font-weight="normal" font-style="normal" >0.8</text>
<text x="333.8" y="92.8" font-size="6.4" text-anchor="middle" fill="#2a2a2a" font-weight="normal" font-style="normal" >1</text>
<text x="344.8" y="92.8" font-size="6.4" text-anchor="middle" fill="#2a2a2a" font-weight="normal" font-style="normal" >2.5</text>
<text x="356.5" y="92.8" font-size="6.4" text-anchor="middle" fill="#2a2a2a" font-weight="normal" font-style="normal" >1.4</text>
<text x="367.5" y="92.8" font-size="6.4" text-anchor="middle" fill="#2a2a2a" font-weight="normal" font-style="normal" >1.9</text>
<text x="378.8" y="92.8" font-size="6.4" text-anchor="middle" fill="#2a2a2a" font-weight="normal" font-style="normal" >1.4</text>
<text x="391.0" y="92.8" font-size="6.4" text-anchor="middle" fill="#2a2a2a" font-weight="normal" font-style="normal" >1.5</text>
<text x="334" y="112.0" font-size="6.4" text-anchor="middle" fill="#2a2a2a" font-weight="normal" font-style="normal" >1</text>
<text x="344.7" y="112.0" font-size="6.4" text-anchor="middle" fill="#2a2a2a" font-weight="normal" font-style="normal" >1.3</text>
<text x="355" y="112.0" font-size="6.4" text-anchor="middle" fill="#2a2a2a" font-weight="normal" font-style="normal" >1.1</text>
<text x="365.2" y="112.0" font-size="6.4" text-anchor="middle" fill="#2a2a2a" font-weight="normal" font-style="normal" >1.1</text>
<text x="376.9" y="112.0" font-size="6.4" text-anchor="middle" fill="#2a2a2a" font-weight="normal" font-style="normal" >1</text>
<text x="387.9" y="112.0" font-size="6.4" text-anchor="middle" fill="#2a2a2a" font-weight="normal" font-style="normal" >1</text>
<text x="333" y="136.6" font-size="6.4" text-anchor="middle" fill="#2a2a2a" font-weight="normal" font-style="normal" >1</text>
<text x="345.5" y="136.6" font-size="6.4" text-anchor="middle" fill="#2a2a2a" font-weight="normal" font-style="normal" >8</text>
<text x="358.3" y="136.6" font-size="6.4" text-anchor="middle" fill="#2a2a2a" font-weight="normal" font-style="normal" >4</text>
<text x="368" y="136.6" font-size="6.4" text-anchor="middle" fill="#2a2a2a" font-weight="normal" font-style="normal" >1</text>
<text x="380.5" y="136.6" font-size="6.4" text-anchor="middle" fill="#2a2a2a" font-weight="normal" font-style="normal" >1.2</text>
<text x="393.4" y="136.6" font-size="6.4" text-anchor="middle" fill="#2a2a2a" font-weight="normal" font-style="normal" >1.2</text>
<text x="333" y="166.5" font-size="6.4" text-anchor="middle" fill="#2a2a2a" font-weight="normal" font-style="normal" >1</text>
<text x="344.6" y="166.5" font-size="6.4" text-anchor="middle" fill="#2a2a2a" font-weight="normal" font-style="normal" >1.4</text>
<text x="355.5" y="166.5" font-size="6.4" text-anchor="middle" fill="#2a2a2a" font-weight="normal" font-style="normal" >1.4</text>
<text x="368" y="166.5" font-size="6.4" text-anchor="middle" fill="#2a2a2a" font-weight="normal" font-style="normal" >1</text>
<text x="380.5" y="166.5" font-size="6.4" text-anchor="middle" fill="#2a2a2a" font-weight="normal" font-style="normal" >1.2</text>
<text x="393.4" y="166.5" font-size="6.4" text-anchor="middle" fill="#2a2a2a" font-weight="normal" font-style="normal" >1.2</text>
<text x="332" y="187.1" font-size="6.4" text-anchor="middle" fill="#2a2a2a" font-weight="normal" font-style="normal" >1</text>
<text x="344.7" y="187.1" font-size="6.4" text-anchor="middle" fill="#2a2a2a" font-weight="normal" font-style="normal" >0.7</text>
<text x="357.2" y="187.1" font-size="6.4" text-anchor="middle" fill="#2a2a2a" font-weight="normal" font-style="normal" >0.7</text>
<text x="368.9" y="187.1" font-size="6.4" text-anchor="middle" fill="#2a2a2a" font-weight="normal" font-style="normal" >0.7</text>
<text x="380.6" y="187.1" font-size="6.4" text-anchor="middle" fill="#2a2a2a" font-weight="normal" font-style="normal" >0.7</text>
<text x="393" y="187.1" font-size="6.4" text-anchor="middle" fill="#2a2a2a" font-weight="normal" font-style="normal" >0.73</text>
<text x="332" y="206.1" font-size="6.4" text-anchor="middle" fill="#2a2a2a" font-weight="normal" font-style="normal" >1</text>
<text x="345" y="206.1" font-size="6.4" text-anchor="middle" fill="#2a2a2a" font-weight="normal" font-style="normal" >0.8</text>
<text x="357" y="206.1" font-size="6.4" text-anchor="middle" fill="#2a2a2a" font-weight="normal" font-style="normal" >0.9</text>
<text x="368.5" y="206.1" font-size="6.4" text-anchor="middle" fill="#2a2a2a" font-weight="normal" font-style="normal" >1</text>
<text x="379.8" y="206.1" font-size="6.4" text-anchor="middle" fill="#2a2a2a" font-weight="normal" font-style="normal" >1</text>
<text x="391.3" y="206.1" font-size="6.4" text-anchor="middle" fill="#2a2a2a" font-weight="normal" font-style="normal" >1</text>
<text x="335" y="225.6" font-size="6.4" text-anchor="middle" fill="#2a2a2a" font-weight="normal" font-style="normal" >1</text>
<text x="347.7" y="225.6" font-size="6.4" text-anchor="middle" fill="#2a2a2a" font-weight="normal" font-style="normal" >2.2</text>
<text x="357.9" y="225.6" font-size="6.4" text-anchor="middle" fill="#2a2a2a" font-weight="normal" font-style="normal" >2.1</text>
<text x="368.1" y="225.6" font-size="6.4" text-anchor="middle" fill="#2a2a2a" font-weight="normal" font-style="normal" >2.0</text>
<text x="379.1" y="225.6" font-size="6.4" text-anchor="middle" fill="#2a2a2a" font-weight="normal" font-style="normal" >1.2</text>
<text x="389.3" y="225.6" font-size="6.4" text-anchor="middle" fill="#2a2a2a" font-weight="normal" font-style="normal" >1.7</text>
<text x="416.4" y="69.0" font-size="6.4" text-anchor="middle" fill="#2a2a2a" font-weight="normal" font-style="normal" >0</text>
<text x="426.6" y="69.0" font-size="6.4" text-anchor="middle" fill="#2a2a2a" font-weight="normal" font-style="normal" >1</text>
<text x="436.4" y="69.0" font-size="6.4" text-anchor="middle" fill="#2a2a2a" font-weight="normal" font-style="normal" >0.7</text>
<text x="448.9" y="69.0" font-size="6.4" text-anchor="middle" fill="#2a2a2a" font-weight="normal" font-style="normal" >1.1</text>
<text x="459.8" y="69.0" font-size="6.4" text-anchor="middle" fill="#2a2a2a" font-weight="normal" font-style="normal" >1.1</text>
<text x="471.5" y="69.0" font-size="6.4" text-anchor="middle" fill="#2a2a2a" font-weight="normal" font-style="normal" >0.7</text>
<text x="414" y="92.8" font-size="6.4" text-anchor="middle" fill="#2a2a2a" font-weight="normal" font-style="normal" >1</text>
<text x="426.2" y="92.8" font-size="6.4" text-anchor="middle" fill="#2a2a2a" font-weight="normal" font-style="normal" >0.8</text>
<text x="437.9" y="92.8" font-size="6.4" text-anchor="middle" fill="#2a2a2a" font-weight="normal" font-style="normal" >0.7</text>
<text x="448.1" y="92.8" font-size="6.4" text-anchor="middle" fill="#2a2a2a" font-weight="normal" font-style="normal" >1.1</text>
<text x="459" y="92.8" font-size="6.4" text-anchor="middle" fill="#2a2a2a" font-weight="normal" font-style="normal" >1.0</text>
<text x="470.8" y="92.8" font-size="6.4" text-anchor="middle" fill="#2a2a2a" font-weight="normal" font-style="normal" >0.7</text>
<text x="413.8" y="112.0" font-size="6.4" text-anchor="middle" fill="#2a2a2a" font-weight="normal" font-style="normal" >1</text>
<text x="426.2" y="112.0" font-size="6.4" text-anchor="middle" fill="#2a2a2a" font-weight="normal" font-style="normal" >1.1</text>
<text x="439.4" y="112.0" font-size="6.4" text-anchor="middle" fill="#2a2a2a" font-weight="normal" font-style="normal" >1</text>
<text x="449.6" y="112.0" font-size="6.4" text-anchor="middle" fill="#2a2a2a" font-weight="normal" font-style="normal" >1</text>
<text x="460.6" y="112.0" font-size="6.4" text-anchor="middle" fill="#2a2a2a" font-weight="normal" font-style="normal" >1</text>
<text x="470" y="112.0" font-size="6.4" text-anchor="middle" fill="#2a2a2a" font-weight="normal" font-style="normal" >1</text>
<text x="415" y="136.6" font-size="6.4" text-anchor="middle" fill="#2a2a2a" font-weight="normal" font-style="normal" >1</text>
<text x="426.9" y="136.6" font-size="6.4" text-anchor="middle" fill="#2a2a2a" font-weight="normal" font-style="normal" >14</text>
<text x="437.9" y="136.6" font-size="6.4" text-anchor="middle" fill="#2a2a2a" font-weight="normal" font-style="normal" >10</text>
<text x="447.4" y="136.6" font-size="6.4" text-anchor="middle" fill="#2a2a2a" font-weight="normal" font-style="normal" >2.7</text>
<text x="457.6" y="136.6" font-size="6.4" text-anchor="middle" fill="#2a2a2a" font-weight="normal" font-style="normal" >2.9</text>
<text x="469.4" y="136.6" font-size="6.4" text-anchor="middle" fill="#2a2a2a" font-weight="normal" font-style="normal" >3.0</text>
<text x="415" y="166.5" font-size="6.4" text-anchor="middle" fill="#2a2a2a" font-weight="normal" font-style="normal" >1</text>
<text x="426.6" y="166.5" font-size="6.4" text-anchor="middle" fill="#2a2a2a" font-weight="normal" font-style="normal" >1.5</text>
<text x="436.4" y="166.5" font-size="6.4" text-anchor="middle" fill="#2a2a2a" font-weight="normal" font-style="normal" >1.4</text>
<text x="448.9" y="166.5" font-size="6.4" text-anchor="middle" fill="#2a2a2a" font-weight="normal" font-style="normal" >1</text>
<text x="459.8" y="166.5" font-size="6.4" text-anchor="middle" fill="#2a2a2a" font-weight="normal" font-style="normal" >1</text>
<text x="470.8" y="166.5" font-size="6.4" text-anchor="middle" fill="#2a2a2a" font-weight="normal" font-style="normal" >1.4</text>
<text x="413.8" y="187.1" font-size="6.4" text-anchor="middle" fill="#2a2a2a" font-weight="normal" font-style="normal" >1</text>
<text x="426.9" y="187.1" font-size="6.4" text-anchor="middle" fill="#2a2a2a" font-weight="normal" font-style="normal" >1.2</text>
<text x="438.3" y="187.1" font-size="6.4" text-anchor="middle" fill="#2a2a2a" font-weight="normal" font-style="normal" >1.1</text>
<text x="448.9" y="187.1" font-size="6.4" text-anchor="middle" fill="#2a2a2a" font-weight="normal" font-style="normal" >1</text>
<text x="459" y="187.1" font-size="6.4" text-anchor="middle" fill="#2a2a2a" font-weight="normal" font-style="normal" >1.1</text>
<text x="470" y="187.1" font-size="6.4" text-anchor="middle" fill="#2a2a2a" font-weight="normal" font-style="normal" >1</text>
<text x="414" y="206.1" font-size="6.4" text-anchor="middle" fill="#2a2a2a" font-weight="normal" font-style="normal" >1</text>
<text x="427.7" y="206.1" font-size="6.4" text-anchor="middle" fill="#2a2a2a" font-weight="normal" font-style="normal" >0.6</text>
<text x="438.6" y="206.1" font-size="6.4" text-anchor="middle" fill="#2a2a2a" font-weight="normal" font-style="normal" >0.7</text>
<text x="448.8" y="206.1" font-size="6.4" text-anchor="middle" fill="#2a2a2a" font-weight="normal" font-style="normal" >0.8</text>
<text x="459" y="206.1" font-size="6.4" text-anchor="middle" fill="#2a2a2a" font-weight="normal" font-style="normal" >0.9</text>
<text x="470.5" y="206.1" font-size="6.4" text-anchor="middle" fill="#2a2a2a" font-weight="normal" font-style="normal" >0.9</text>
<g transform="translate(415.2,227.8) rotate(-45)"><text x="0" y="2.2" font-size="6.6" text-anchor="middle" fill="#2a2a2a">0.37</text></g>
<g transform="translate(426.9,226.3) rotate(-45)"><text x="0" y="2.2" font-size="6.6" text-anchor="middle" fill="#2a2a2a">0.3</text></g>
<g transform="translate(436.4,228.5) rotate(-45)"><text x="0" y="2.2" font-size="6.6" text-anchor="middle" fill="#2a2a2a">0.32</text></g>
<g transform="translate(448.1,226.3) rotate(-45)"><text x="0" y="2.2" font-size="6.6" text-anchor="middle" fill="#2a2a2a">0.3</text></g>
<g transform="translate(457.6,226.3) rotate(-45)"><text x="0" y="2.2" font-size="6.6" text-anchor="middle" fill="#2a2a2a">0.3</text></g>
<g transform="translate(469.3,228.5) rotate(-45)"><text x="0" y="2.2" font-size="6.6" text-anchor="middle" fill="#2a2a2a">0.25</text></g>
<text x="361.0" y="253.9" font-size="6.5" text-anchor="middle" fill="#333" font-weight="normal" font-style="normal" style="stroke-width:0.1px">BaF3-Sc/shRNA</text>
<text x="442.0" y="253.9" font-size="6.5" text-anchor="middle" fill="#333" font-weight="normal" font-style="normal" style="stroke-width:0.1px">BaF3-Dusp1/shRNA</text>
<text x="483.0" y="53.6" font-size="7.0" text-anchor="start" fill="#3a3a3a" font-weight="normal" font-style="normal" style="stroke:none">anti-HA</text>
<text x="483.0" y="61.6" font-size="7.0" text-anchor="start" fill="#3a3a3a" font-weight="normal" font-style="normal" style="stroke:none">(HA/Actin)</text>
<text x="483.0" y="80.3" font-size="7.0" text-anchor="start" fill="#3a3a3a" font-weight="normal" font-style="normal" style="stroke:none">pERK1/2</text>
<text x="483.0" y="101.5" font-size="7.0" text-anchor="start" fill="#3a3a3a" font-weight="normal" font-style="normal" style="stroke:none">ERK1/2</text>
<text x="483.0" y="125.6" font-size="7.0" text-anchor="start" fill="#3a3a3a" font-weight="normal" font-style="normal" style="stroke:none">pJNK1/2</text>
<text x="483.0" y="153.79999999999998" font-size="7.0" text-anchor="start" fill="#3a3a3a" font-weight="normal" font-style="normal" style="stroke:none">JNK1/2</text>
<text x="483.0" y="175.6" font-size="7.0" text-anchor="start" fill="#3a3a3a" font-weight="normal" font-style="normal" style="stroke:none">p-P38</text>
<text x="483.0" y="196.0" font-size="7.0" text-anchor="start" fill="#3a3a3a" font-weight="normal" font-style="normal" style="stroke:none">P38</text>
<text x="483.0" y="215.2" font-size="7.0" text-anchor="start" fill="#3a3a3a" font-weight="normal" font-style="normal" style="stroke:none">DUSP1</text>
<text x="483.0" y="240.7" font-size="7.0" text-anchor="start" fill="#3a3a3a" font-weight="normal" font-style="normal" style="stroke:none">Actin</text>
<g transform="translate(336.60,47.8) rotate(-45)"><text x="0" y="0" font-size="6.5" fill="#333">pMIV</text></g>
<g transform="translate(347.40,47.8) rotate(-45)"><text x="0" y="0" font-size="6.7" fill="#333">CSF3R<tspan font-size="4.5" dy="-2.3">T618I/Q741*</tspan></text></g>
<g transform="translate(358.70,47.8) rotate(-45)"><text x="0" y="0" font-size="6.7" fill="#333">CSF3R<tspan font-size="4.5" dy="-2.3">T618I</tspan></text></g>
<g transform="translate(369.00,47.8) rotate(-45)"><text x="0" y="0" font-size="6.7" fill="#333">CSF3R<tspan font-size="4.5" dy="-2.3">W791*</tspan></text></g>
<g transform="translate(379.20,47.8) rotate(-45)"><text x="0" y="0" font-size="6.7" fill="#333">CSF3R<tspan font-size="4.5" dy="-2.3">Q741*</tspan></text></g>
<g transform="translate(389.70,47.8) rotate(-45)"><text x="0" y="0" font-size="6.7" fill="#333">CSF3R<tspan font-size="4.5" dy="-2.3">T618I/W791*</tspan></text></g>
<g transform="translate(418.10,47.8) rotate(-45)"><text x="0" y="0" font-size="6.5" fill="#333">pMIV</text></g>
<g transform="translate(428.90,47.8) rotate(-45)"><text x="0" y="0" font-size="6.7" fill="#333">CSF3R<tspan font-size="4.5" dy="-2.3">T618I/Q741*</tspan></text></g>
<g transform="translate(439.70,47.8) rotate(-45)"><text x="0" y="0" font-size="6.7" fill="#333">CSF3R<tspan font-size="4.5" dy="-2.3">T618I</tspan></text></g>
<g transform="translate(450.20,47.8) rotate(-45)"><text x="0" y="0" font-size="6.7" fill="#333">CSF3R<tspan font-size="4.5" dy="-2.3">W791*</tspan></text></g>
<g transform="translate(460.40,47.8) rotate(-45)"><text x="0" y="0" font-size="6.7" fill="#333">CSF3R<tspan font-size="4.5" dy="-2.3">Q741*</tspan></text></g>
<g transform="translate(471.20,47.8) rotate(-45)"><text x="0" y="0" font-size="6.7" fill="#333">CSF3R<tspan font-size="4.5" dy="-2.3">T618I/W791*</tspan></text></g>
<text x="13.6" y="282.0" font-size="12.8" text-anchor="start" fill="#000" font-weight="bold" font-style="normal" >D</text>
<text x="50.2" y="295.0" font-size="8.6" text-anchor="start" fill="#222" font-weight="normal" font-style="normal" style="stroke:none">BaF3-Dusp1 shRNA with IL3</text>
<line x1="33.50" y1="301.72" x2="33.50" y2="396.50" stroke="#222" stroke-width="0.9"/>
<line x1="33.50" y1="396.50" x2="174.00" y2="396.50" stroke="#222" stroke-width="0.9"/>
<line x1="31.50" y1="396.50" x2="33.50" y2="396.50" stroke="#222" stroke-width="0.8"/>
<g transform="translate(27.50,398.80) scale(0.85,1)"><text x="0" y="0" font-size="6.6" text-anchor="end" fill="#333" font-weight="normal" font-style="normal" >0</text></g>
<line x1="31.50" y1="380.87" x2="33.50" y2="380.87" stroke="#222" stroke-width="0.8"/>
<g transform="translate(27.50,383.17) scale(0.85,1)"><text x="0" y="0" font-size="6.6" text-anchor="end" fill="#333" font-weight="normal" font-style="normal" >1</text></g>
<line x1="31.50" y1="365.24" x2="33.50" y2="365.24" stroke="#222" stroke-width="0.8"/>
<g transform="translate(27.50,367.54) scale(0.85,1)"><text x="0" y="0" font-size="6.6" text-anchor="end" fill="#333" font-weight="normal" font-style="normal" >2</text></g>
<line x1="31.50" y1="349.61" x2="33.50" y2="349.61" stroke="#222" stroke-width="0.8"/>
<g transform="translate(27.50,351.91) scale(0.85,1)"><text x="0" y="0" font-size="6.6" text-anchor="end" fill="#333" font-weight="normal" font-style="normal" >3</text></g>
<line x1="31.50" y1="333.98" x2="33.50" y2="333.98" stroke="#222" stroke-width="0.8"/>
<g transform="translate(27.50,336.28) scale(0.85,1)"><text x="0" y="0" font-size="6.6" text-anchor="end" fill="#333" font-weight="normal" font-style="normal" >4</text></g>
<line x1="31.50" y1="318.35" x2="33.50" y2="318.35" stroke="#222" stroke-width="0.8"/>
<g transform="translate(27.50,320.65) scale(0.85,1)"><text x="0" y="0" font-size="6.6" text-anchor="end" fill="#333" font-weight="normal" font-style="normal" >5</text></g>
<line x1="31.50" y1="302.72" x2="33.50" y2="302.72" stroke="#222" stroke-width="0.8"/>
<g transform="translate(27.50,305.02) scale(0.85,1)"><text x="0" y="0" font-size="6.6" text-anchor="end" fill="#333" font-weight="normal" font-style="normal" >6</text></g>
<line x1="33.50" y1="396.50" x2="33.50" y2="398.50" stroke="#222" stroke-width="0.8"/>
<g transform="translate(33.70,409.10) scale(0.85,1)"><text x="0" y="0" font-size="6.6" text-anchor="middle" fill="#333" font-weight="normal" font-style="normal" >0</text></g>
<line x1="61.50" y1="396.50" x2="61.50" y2="398.50" stroke="#222" stroke-width="0.8"/>
<g transform="translate(61.70,409.10) scale(0.85,1)"><text x="0" y="0" font-size="6.6" text-anchor="middle" fill="#333" font-weight="normal" font-style="normal" >1</text></g>
<line x1="89.50" y1="396.50" x2="89.50" y2="398.50" stroke="#222" stroke-width="0.8"/>
<g transform="translate(89.70,409.10) scale(0.85,1)"><text x="0" y="0" font-size="6.6" text-anchor="middle" fill="#333" font-weight="normal" font-style="normal" >2</text></g>
<line x1="117.50" y1="396.50" x2="117.50" y2="398.50" stroke="#222" stroke-width="0.8"/>
<g transform="translate(117.70,409.10) scale(0.85,1)"><text x="0" y="0" font-size="6.6" text-anchor="middle" fill="#333" font-weight="normal" font-style="normal" >3</text></g>
<line x1="145.50" y1="396.50" x2="145.50" y2="398.50" stroke="#222" stroke-width="0.8"/>
<g transform="translate(145.70,409.10) scale(0.85,1)"><text x="0" y="0" font-size="6.6" text-anchor="middle" fill="#333" font-weight="normal" font-style="normal" >4</text></g>
<line x1="173.50" y1="396.50" x2="173.50" y2="398.50" stroke="#222" stroke-width="0.8"/>
<g transform="translate(173.70,409.10) scale(0.85,1)"><text x="0" y="0" font-size="6.6" text-anchor="middle" fill="#333" font-weight="normal" font-style="normal" >5</text></g>
<g transform="translate(105.10,419.80) scale(0.66,1)"><text x="0" y="0" font-size="8.2" text-anchor="middle" fill="#222" font-weight="bold" style="stroke:none">Days</text></g>
<g transform="translate(18.40,348.90) rotate(-90)"><g transform="scale(0.805,1)"><text x="0" y="0" font-size="7.3" text-anchor="middle" fill="#222" font-weight="bold" style="stroke:none">1×10<tspan font-size="4.6" dy="-2.9">6</tspan><tspan dy="2.9"> cells per ml</tspan></text></g></g>
<polyline points="33.50,393.37 61.50,391.81 89.50,374.31 117.50,363.68 145.50,318.35" fill="none" stroke="#d8196f" stroke-width="0.85"/>
<polyline points="33.50,393.37 61.50,391.81 89.50,377.74 117.50,361.33 145.50,321.48" fill="none" stroke="#8590c8" stroke-width="0.85"/>
<polyline points="33.50,393.37 61.50,391.03 89.50,374.93 117.50,361.33 145.50,320.23" fill="none" stroke="#eca028" stroke-width="0.85"/>
<polyline points="33.50,393.37 61.50,391.03 89.50,376.81 117.50,355.86 145.50,319.91" fill="none" stroke="#34a050" stroke-width="0.85"/>
<polyline points="33.50,393.37 61.50,393.37 89.50,383.68 117.50,364.46 145.50,317.88" fill="none" stroke="#b41e3e" stroke-width="0.85"/>
<polyline points="33.50,393.06 61.50,386.18 89.50,370.09 117.50,360.08 145.50,325.85" fill="none" stroke="#1f4480" stroke-width="0.85"/>
<line x1="145.50" y1="335.23" x2="145.50" y2="316.79" stroke="#1f4480" stroke-width="0.8"/>
<line x1="143.70" y1="335.23" x2="147.30" y2="335.23" stroke="#1f4480" stroke-width="0.8"/>
<line x1="143.70" y1="316.79" x2="147.30" y2="316.79" stroke="#1f4480" stroke-width="0.8"/>
<line x1="145.50" y1="324.60" x2="145.50" y2="308.97" stroke="#d8196f" stroke-width="0.8"/>
<line x1="143.70" y1="324.60" x2="147.30" y2="324.60" stroke="#d8196f" stroke-width="0.8"/>
<line x1="143.70" y1="308.97" x2="147.30" y2="308.97" stroke="#d8196f" stroke-width="0.8"/>
<line x1="145.50" y1="320.69" x2="145.50" y2="315.22" stroke="#b41e3e" stroke-width="0.8"/>
<line x1="143.70" y1="320.69" x2="147.30" y2="320.69" stroke="#b41e3e" stroke-width="0.8"/>
<line x1="143.70" y1="315.22" x2="147.30" y2="315.22" stroke="#b41e3e" stroke-width="0.8"/>
<line x1="89.50" y1="372.27" x2="89.50" y2="366.80" stroke="#1f4480" stroke-width="0.8"/>
<line x1="87.70" y1="372.27" x2="91.30" y2="372.27" stroke="#1f4480" stroke-width="0.8"/>
<line x1="87.70" y1="366.80" x2="91.30" y2="366.80" stroke="#1f4480" stroke-width="0.8"/>
<rect x="31.55" y="391.42" width="3.91" height="3.91" fill="#d8196f"/>
<rect x="59.55" y="389.86" width="3.91" height="3.91" fill="#d8196f"/>
<rect x="87.55" y="372.35" width="3.91" height="3.91" fill="#d8196f"/>
<rect x="115.55" y="361.72" width="3.91" height="3.91" fill="#d8196f"/>
<rect x="143.54" y="316.40" width="3.91" height="3.91" fill="#d8196f"/>
<line x1="31.97" y1="393.374" x2="35.03" y2="393.374" stroke="#8590c8" stroke-width="0.9"/><line x1="33.5" y1="391.84" x2="33.5" y2="394.90" stroke="#8590c8" stroke-width="0.9"/>
<line x1="59.97" y1="391.811" x2="63.03" y2="391.811" stroke="#8590c8" stroke-width="0.9"/><line x1="61.5" y1="390.28" x2="61.5" y2="393.34" stroke="#8590c8" stroke-width="0.9"/>
<line x1="87.97" y1="377.744" x2="91.03" y2="377.744" stroke="#8590c8" stroke-width="0.9"/><line x1="89.5" y1="376.21" x2="89.5" y2="379.27" stroke="#8590c8" stroke-width="0.9"/>
<line x1="115.97" y1="361.3325" x2="119.03" y2="361.3325" stroke="#8590c8" stroke-width="0.9"/><line x1="117.5" y1="359.80" x2="117.5" y2="362.86" stroke="#8590c8" stroke-width="0.9"/>
<line x1="143.97" y1="321.476" x2="147.03" y2="321.476" stroke="#8590c8" stroke-width="0.9"/><line x1="145.5" y1="319.95" x2="145.5" y2="323.01" stroke="#8590c8" stroke-width="0.9"/>
<circle cx="33.5" cy="393.374" r="2.04" fill="#eca028"/>
<circle cx="61.5" cy="391.0295" r="2.04" fill="#eca028"/>
<circle cx="89.5" cy="374.9306" r="2.04" fill="#eca028"/>
<circle cx="117.5" cy="361.3325" r="2.04" fill="#eca028"/>
<circle cx="145.5" cy="320.2256" r="2.04" fill="#eca028"/>
<path d="M31.38,391.67 L33.50,395.50 L35.62,391.67 Z" fill="#34a050"/>
<path d="M59.38,389.33 L61.50,393.15 L63.62,389.33 Z" fill="#34a050"/>
<path d="M87.38,375.11 L89.50,378.93 L91.62,375.11 Z" fill="#34a050"/>
<path d="M115.38,354.16 L117.50,357.99 L119.62,354.16 Z" fill="#34a050"/>
<path d="M143.38,318.21 L145.50,322.04 L147.62,318.21 Z" fill="#34a050"/>
<path d="M31.38,395.07 L33.50,391.25 L35.62,395.07 Z" fill="#b41e3e"/>
<path d="M59.38,395.07 L61.50,391.25 L63.62,395.07 Z" fill="#b41e3e"/>
<path d="M87.38,385.38 L89.50,381.56 L91.62,385.38 Z" fill="#b41e3e"/>
<path d="M115.38,366.16 L117.50,362.33 L119.62,366.16 Z" fill="#b41e3e"/>
<path d="M143.38,319.58 L145.50,315.76 L147.62,319.58 Z" fill="#b41e3e"/>
<rect x="31.55" y="391.11" width="3.91" height="3.91" fill="#1f4480"/>
<rect x="59.55" y="384.23" width="3.91" height="3.91" fill="#1f4480"/>
<rect x="87.55" y="368.13" width="3.91" height="3.91" fill="#1f4480"/>
<rect x="115.55" y="358.13" width="3.91" height="3.91" fill="#1f4480"/>
<rect x="143.54" y="323.90" width="3.91" height="3.91" fill="#1f4480"/>
<line x1="165.90" y1="308.90" x2="176.80" y2="308.90" stroke="#1f4480" stroke-width="0.8"/>
<rect x="169.64" y="307.24" width="3.31" height="3.31" fill="#1f4480"/>
<text x="180.90" y="311.10" font-size="6.4" text-anchor="start" fill="#333" font-weight="normal" font-style="italic" ><tspan>pMSCV-Ires-Venus</tspan></text>
<line x1="165.90" y1="322.30" x2="176.80" y2="322.30" stroke="#b41e3e" stroke-width="0.8"/>
<path d="M169.18,324.00 L171.30,320.18 L173.43,324.00 Z" fill="#b41e3e"/>
<text x="180.90" y="324.90" font-size="7.0" text-anchor="start" fill="#333" font-weight="normal" font-style="italic" >CSF3R<tspan font-size="4.2" dy="-3">T618I</tspan></text>
<line x1="165.90" y1="335.60" x2="176.80" y2="335.60" stroke="#34a050" stroke-width="0.8"/>
<path d="M169.18,333.90 L171.30,337.73 L173.43,333.90 Z" fill="#34a050"/>
<text x="180.90" y="338.20" font-size="7.0" text-anchor="start" fill="#333" font-weight="normal" font-style="italic" >CSF3R<tspan font-size="4.2" dy="-3">T618I/Q741*</tspan></text>
<line x1="165.90" y1="349.40" x2="176.80" y2="349.40" stroke="#8590c8" stroke-width="0.8"/>
<line x1="169.68" y1="349.4" x2="172.92" y2="349.4" stroke="#8590c8" stroke-width="0.9"/><line x1="171.3" y1="347.78" x2="171.3" y2="351.02" stroke="#8590c8" stroke-width="0.9"/>
<text x="180.90" y="352.00" font-size="7.0" text-anchor="start" fill="#333" font-weight="normal" font-style="italic" >CSF3R<tspan font-size="4.2" dy="-3">Q741*</tspan></text>
<line x1="165.90" y1="363.20" x2="176.80" y2="363.20" stroke="#eca028" stroke-width="0.8"/>
<circle cx="171.3" cy="363.2" r="2.40" fill="#eca028"/>
<text x="180.90" y="365.80" font-size="7.0" text-anchor="start" fill="#333" font-weight="normal" font-style="italic" >CSF3R<tspan font-size="4.2" dy="-3">W791*</tspan></text>
<line x1="165.90" y1="376.70" x2="176.80" y2="376.70" stroke="#d8196f" stroke-width="0.8"/>
<rect x="169.12" y="374.51" width="4.37" height="4.37" fill="#d8196f"/>
<text x="180.90" y="379.30" font-size="7.0" text-anchor="start" fill="#333" font-weight="normal" font-style="italic" >CSF3R<tspan font-size="4.2" dy="-3">T618I/W791*</tspan></text>
<text x="250.3" y="282.0" font-size="12.8" text-anchor="start" fill="#000" font-weight="bold" font-style="normal" >E</text>
<text x="288.5" y="295.0" font-size="8.6" text-anchor="start" fill="#222" font-weight="normal" font-style="normal" style="stroke:none">BaF3-Dusp1 shRNA without IL3</text>
<line x1="276.50" y1="301.72" x2="276.50" y2="396.50" stroke="#222" stroke-width="0.9"/>
<line x1="276.50" y1="396.50" x2="417.50" y2="396.50" stroke="#222" stroke-width="0.9"/>
<line x1="274.50" y1="396.50" x2="276.50" y2="396.50" stroke="#222" stroke-width="0.8"/>
<g transform="translate(270.10,398.80) scale(0.85,1)"><text x="0" y="0" font-size="6.6" text-anchor="end" fill="#333" font-weight="normal" font-style="normal" >0</text></g>
<line x1="274.50" y1="380.87" x2="276.50" y2="380.87" stroke="#222" stroke-width="0.8"/>
<g transform="translate(270.10,383.17) scale(0.85,1)"><text x="0" y="0" font-size="6.6" text-anchor="end" fill="#333" font-weight="normal" font-style="normal" >1</text></g>
<line x1="274.50" y1="365.24" x2="276.50" y2="365.24" stroke="#222" stroke-width="0.8"/>
<g transform="translate(270.10,367.54) scale(0.85,1)"><text x="0" y="0" font-size="6.6" text-anchor="end" fill="#333" font-weight="normal" font-style="normal" >2</text></g>
<line x1="274.50" y1="349.61" x2="276.50" y2="349.61" stroke="#222" stroke-width="0.8"/>
<g transform="translate(270.10,351.91) scale(0.85,1)"><text x="0" y="0" font-size="6.6" text-anchor="end" fill="#333" font-weight="normal" font-style="normal" >3</text></g>
<line x1="274.50" y1="333.98" x2="276.50" y2="333.98" stroke="#222" stroke-width="0.8"/>
<g transform="translate(270.10,336.28) scale(0.85,1)"><text x="0" y="0" font-size="6.6" text-anchor="end" fill="#333" font-weight="normal" font-style="normal" >4</text></g>
<line x1="274.50" y1="318.35" x2="276.50" y2="318.35" stroke="#222" stroke-width="0.8"/>
<g transform="translate(270.10,320.65) scale(0.85,1)"><text x="0" y="0" font-size="6.6" text-anchor="end" fill="#333" font-weight="normal" font-style="normal" >5</text></g>
<line x1="274.50" y1="302.72" x2="276.50" y2="302.72" stroke="#222" stroke-width="0.8"/>
<g transform="translate(270.10,305.02) scale(0.85,1)"><text x="0" y="0" font-size="6.6" text-anchor="end" fill="#333" font-weight="normal" font-style="normal" >6</text></g>
<line x1="276.50" y1="396.50" x2="276.50" y2="398.50" stroke="#222" stroke-width="0.8"/>
<g transform="translate(276.70,409.10) scale(0.85,1)"><text x="0" y="0" font-size="6.6" text-anchor="middle" fill="#333" font-weight="normal" font-style="normal" >0</text></g>
<line x1="304.60" y1="396.50" x2="304.60" y2="398.50" stroke="#222" stroke-width="0.8"/>
<g transform="translate(304.80,409.10) scale(0.85,1)"><text x="0" y="0" font-size="6.6" text-anchor="middle" fill="#333" font-weight="normal" font-style="normal" >1</text></g>
<line x1="332.70" y1="396.50" x2="332.70" y2="398.50" stroke="#222" stroke-width="0.8"/>
<g transform="translate(332.90,409.10) scale(0.85,1)"><text x="0" y="0" font-size="6.6" text-anchor="middle" fill="#333" font-weight="normal" font-style="normal" >2</text></g>
<line x1="360.80" y1="396.50" x2="360.80" y2="398.50" stroke="#222" stroke-width="0.8"/>
<g transform="translate(361.00,409.10) scale(0.85,1)"><text x="0" y="0" font-size="6.6" text-anchor="middle" fill="#333" font-weight="normal" font-style="normal" >3</text></g>
<line x1="388.90" y1="396.50" x2="388.90" y2="398.50" stroke="#222" stroke-width="0.8"/>
<g transform="translate(389.10,409.10) scale(0.85,1)"><text x="0" y="0" font-size="6.6" text-anchor="middle" fill="#333" font-weight="normal" font-style="normal" >4</text></g>
<line x1="417.00" y1="396.50" x2="417.00" y2="398.50" stroke="#222" stroke-width="0.8"/>
<g transform="translate(417.20,409.10) scale(0.85,1)"><text x="0" y="0" font-size="6.6" text-anchor="middle" fill="#333" font-weight="normal" font-style="normal" >5</text></g>
<g transform="translate(348.30,419.80) scale(0.66,1)"><text x="0" y="0" font-size="8.2" text-anchor="middle" fill="#222" font-weight="bold" style="stroke:none">Days</text></g>
<g transform="translate(262.40,348.20) rotate(-90)"><g transform="scale(0.805,1)"><text x="0" y="0" font-size="7.3" text-anchor="middle" fill="#222" font-weight="bold" style="stroke:none">1×10<tspan font-size="4.6" dy="-2.9">6</tspan><tspan dy="2.9"> cells per ml</tspan></text></g></g>
<polyline points="276.50,393.06 304.60,391.81 332.70,388.22 360.80,384.46 388.90,380.56" fill="none" stroke="#d8196f" stroke-width="0.85"/>
<polyline points="276.50,393.06 304.60,392.28 332.70,393.06 360.80,394.62 388.90,395.72" fill="none" stroke="#8590c8" stroke-width="0.85"/>
<polyline points="276.50,393.06 304.60,392.28 332.70,391.97 360.80,392.12 388.90,389.78" fill="none" stroke="#eca028" stroke-width="0.85"/>
<polyline points="276.50,393.06 304.60,391.81 332.70,387.75 360.80,384.00 388.90,378.21" fill="none" stroke="#34a050" stroke-width="0.85"/>
<polyline points="276.50,393.06 304.60,391.81 332.70,387.12 360.80,384.00 388.90,379.31" fill="none" stroke="#b41e3e" stroke-width="0.85"/>
<polyline points="276.50,393.06 304.60,392.28 332.70,394.47 360.80,396.03 388.90,396.03" fill="none" stroke="#1f4480" stroke-width="0.85"/>
<line x1="332.70" y1="389.47" x2="332.70" y2="385.56" stroke="#b41e3e" stroke-width="0.8"/>
<line x1="330.90" y1="389.47" x2="334.50" y2="389.47" stroke="#b41e3e" stroke-width="0.8"/>
<line x1="330.90" y1="385.56" x2="334.50" y2="385.56" stroke="#b41e3e" stroke-width="0.8"/>
<line x1="360.80" y1="385.87" x2="360.80" y2="382.43" stroke="#b41e3e" stroke-width="0.8"/>
<line x1="359.00" y1="385.87" x2="362.60" y2="385.87" stroke="#b41e3e" stroke-width="0.8"/>
<line x1="359.00" y1="382.43" x2="362.60" y2="382.43" stroke="#b41e3e" stroke-width="0.8"/>
<line x1="388.90" y1="381.65" x2="388.90" y2="377.43" stroke="#b41e3e" stroke-width="0.8"/>
<line x1="387.10" y1="381.65" x2="390.70" y2="381.65" stroke="#b41e3e" stroke-width="0.8"/>
<line x1="387.10" y1="377.43" x2="390.70" y2="377.43" stroke="#b41e3e" stroke-width="0.8"/>
<rect x="274.55" y="391.11" width="3.91" height="3.91" fill="#d8196f"/>
<rect x="302.65" y="389.86" width="3.91" height="3.91" fill="#d8196f"/>
<rect x="330.75" y="386.26" width="3.91" height="3.91" fill="#d8196f"/>
<rect x="358.85" y="382.51" width="3.91" height="3.91" fill="#d8196f"/>
<rect x="386.94" y="378.60" width="3.91" height="3.91" fill="#d8196f"/>
<line x1="274.97" y1="393.0614" x2="278.03" y2="393.0614" stroke="#8590c8" stroke-width="0.9"/><line x1="276.5" y1="391.53" x2="276.5" y2="394.59" stroke="#8590c8" stroke-width="0.9"/>
<line x1="303.07" y1="392.2799" x2="306.13" y2="392.2799" stroke="#8590c8" stroke-width="0.9"/><line x1="304.6" y1="390.75" x2="304.6" y2="393.81" stroke="#8590c8" stroke-width="0.9"/>
<line x1="331.17" y1="393.0614" x2="334.23" y2="393.0614" stroke="#8590c8" stroke-width="0.9"/><line x1="332.7" y1="391.53" x2="332.7" y2="394.59" stroke="#8590c8" stroke-width="0.9"/>
<line x1="359.27" y1="394.6244" x2="362.33" y2="394.6244" stroke="#8590c8" stroke-width="0.9"/><line x1="360.8" y1="393.09" x2="360.8" y2="396.15" stroke="#8590c8" stroke-width="0.9"/>
<line x1="387.37" y1="395.7185" x2="390.43" y2="395.7185" stroke="#8590c8" stroke-width="0.9"/><line x1="388.9" y1="394.19" x2="388.9" y2="397.25" stroke="#8590c8" stroke-width="0.9"/>
<circle cx="276.5" cy="393.0614" r="2.04" fill="#eca028"/>
<circle cx="304.6" cy="392.2799" r="2.04" fill="#eca028"/>
<circle cx="332.7" cy="391.9673" r="2.04" fill="#eca028"/>
<circle cx="360.8" cy="392.1236" r="2.04" fill="#eca028"/>
<circle cx="388.9" cy="389.77909999999997" r="2.04" fill="#eca028"/>
<path d="M274.38,391.36 L276.50,395.19 L278.62,391.36 Z" fill="#34a050"/>
<path d="M302.48,390.11 L304.60,393.94 L306.73,390.11 Z" fill="#34a050"/>
<path d="M330.57,386.05 L332.70,389.87 L334.82,386.05 Z" fill="#34a050"/>
<path d="M358.68,382.30 L360.80,386.12 L362.93,382.30 Z" fill="#34a050"/>
<path d="M386.77,376.51 L388.90,380.34 L391.02,376.51 Z" fill="#34a050"/>
<path d="M274.38,394.76 L276.50,390.94 L278.62,394.76 Z" fill="#b41e3e"/>
<path d="M302.48,393.51 L304.60,389.69 L306.73,393.51 Z" fill="#b41e3e"/>
<path d="M330.57,388.82 L332.70,385.00 L334.82,388.82 Z" fill="#b41e3e"/>
<path d="M358.68,385.70 L360.80,381.87 L362.93,385.70 Z" fill="#b41e3e"/>
<path d="M386.77,381.01 L388.90,377.18 L391.02,381.01 Z" fill="#b41e3e"/>
<rect x="274.55" y="391.11" width="3.91" height="3.91" fill="#1f4480"/>
<rect x="302.65" y="390.32" width="3.91" height="3.91" fill="#1f4480"/>
<rect x="330.75" y="392.51" width="3.91" height="3.91" fill="#1f4480"/>
<rect x="358.85" y="394.08" width="3.91" height="3.91" fill="#1f4480"/>
<rect x="386.94" y="394.08" width="3.91" height="3.91" fill="#1f4480"/>
<line x1="406.90" y1="309.30" x2="417.80" y2="309.30" stroke="#1f4480" stroke-width="0.8"/>
<rect x="410.64" y="307.64" width="3.31" height="3.31" fill="#1f4480"/>
<text x="421.90" y="311.50" font-size="6.4" text-anchor="start" fill="#333" font-weight="normal" font-style="italic" ><tspan>pMSCV-Ires-Venus</tspan></text>
<line x1="406.90" y1="323.20" x2="417.80" y2="323.20" stroke="#b41e3e" stroke-width="0.8"/>
<path d="M410.17,324.90 L412.30,321.07 L414.42,324.90 Z" fill="#b41e3e"/>
<text x="421.90" y="325.80" font-size="7.0" text-anchor="start" fill="#333" font-weight="normal" font-style="italic" >CSF3R<tspan font-size="4.2" dy="-3">T618I</tspan></text>
<line x1="406.90" y1="336.60" x2="417.80" y2="336.60" stroke="#34a050" stroke-width="0.8"/>
<path d="M410.17,334.90 L412.30,338.73 L414.42,334.90 Z" fill="#34a050"/>
<text x="421.90" y="339.20" font-size="7.0" text-anchor="start" fill="#333" font-weight="normal" font-style="italic" >CSF3R<tspan font-size="4.2" dy="-3">T618I/Q741*</tspan></text>
<line x1="406.90" y1="350.40" x2="417.80" y2="350.40" stroke="#8590c8" stroke-width="0.8"/>
<line x1="410.68" y1="350.4" x2="413.92" y2="350.4" stroke="#8590c8" stroke-width="0.9"/><line x1="412.29999999999995" y1="348.78" x2="412.29999999999995" y2="352.02" stroke="#8590c8" stroke-width="0.9"/>
<text x="421.90" y="353.00" font-size="7.0" text-anchor="start" fill="#333" font-weight="normal" font-style="italic" >CSF3R<tspan font-size="4.2" dy="-3">Q741*</tspan></text>
<line x1="406.90" y1="363.80" x2="417.80" y2="363.80" stroke="#eca028" stroke-width="0.8"/>
<circle cx="412.29999999999995" cy="363.8" r="2.40" fill="#eca028"/>
<text x="421.90" y="366.40" font-size="7.0" text-anchor="start" fill="#333" font-weight="normal" font-style="italic" >CSF3R<tspan font-size="4.2" dy="-3">W791*</tspan></text>
<line x1="406.90" y1="377.00" x2="417.80" y2="377.00" stroke="#d8196f" stroke-width="0.8"/>
<rect x="410.11" y="374.81" width="4.37" height="4.37" fill="#d8196f"/>
<text x="421.90" y="379.60" font-size="7.0" text-anchor="start" fill="#333" font-weight="normal" font-style="italic" >CSF3R<tspan font-size="4.2" dy="-3">T618I/W791*</tspan></text>
<line x1="480.2" y1="306.3" x2="480.2" y2="319.4" stroke="#444" stroke-width="1.2"/>
<circle cx="483.9" cy="313.1" r="0.85" fill="#333"/>
<line x1="486.8" y1="306.3" x2="486.8" y2="332.0" stroke="#8a8a8a" stroke-width="1.2"/>
<circle cx="490.4" cy="316.8" r="0.85" fill="#333"/>
<circle cx="490.4" cy="319.4" r="0.85" fill="#333"/>
<circle cx="490.4" cy="322.0" r="0.85" fill="#333"/>
<line x1="493.6" y1="306.3" x2="493.6" y2="349.3" stroke="#333" stroke-width="1.2"/>
<circle cx="497.2" cy="327.4" r="0.85" fill="#333"/>
<line x1="500.7" y1="306.3" x2="500.7" y2="363.8" stroke="#7a7a7a" stroke-width="1.2"/>
<circle cx="504.6" cy="334.8" r="0.85" fill="#333"/>
<line x1="507.5" y1="306.3" x2="507.5" y2="377.7" stroke="#333" stroke-width="1.2"/>
<circle cx="510.9" cy="340.3" r="0.85" fill="#333"/>
<circle cx="510.9" cy="342.9" r="0.85" fill="#333"/>
<rect x="0.5" y="0.5" width="519" height="429" fill="none" stroke="#6e6e6e" stroke-width="1"/>
</svg>
</body></html>
